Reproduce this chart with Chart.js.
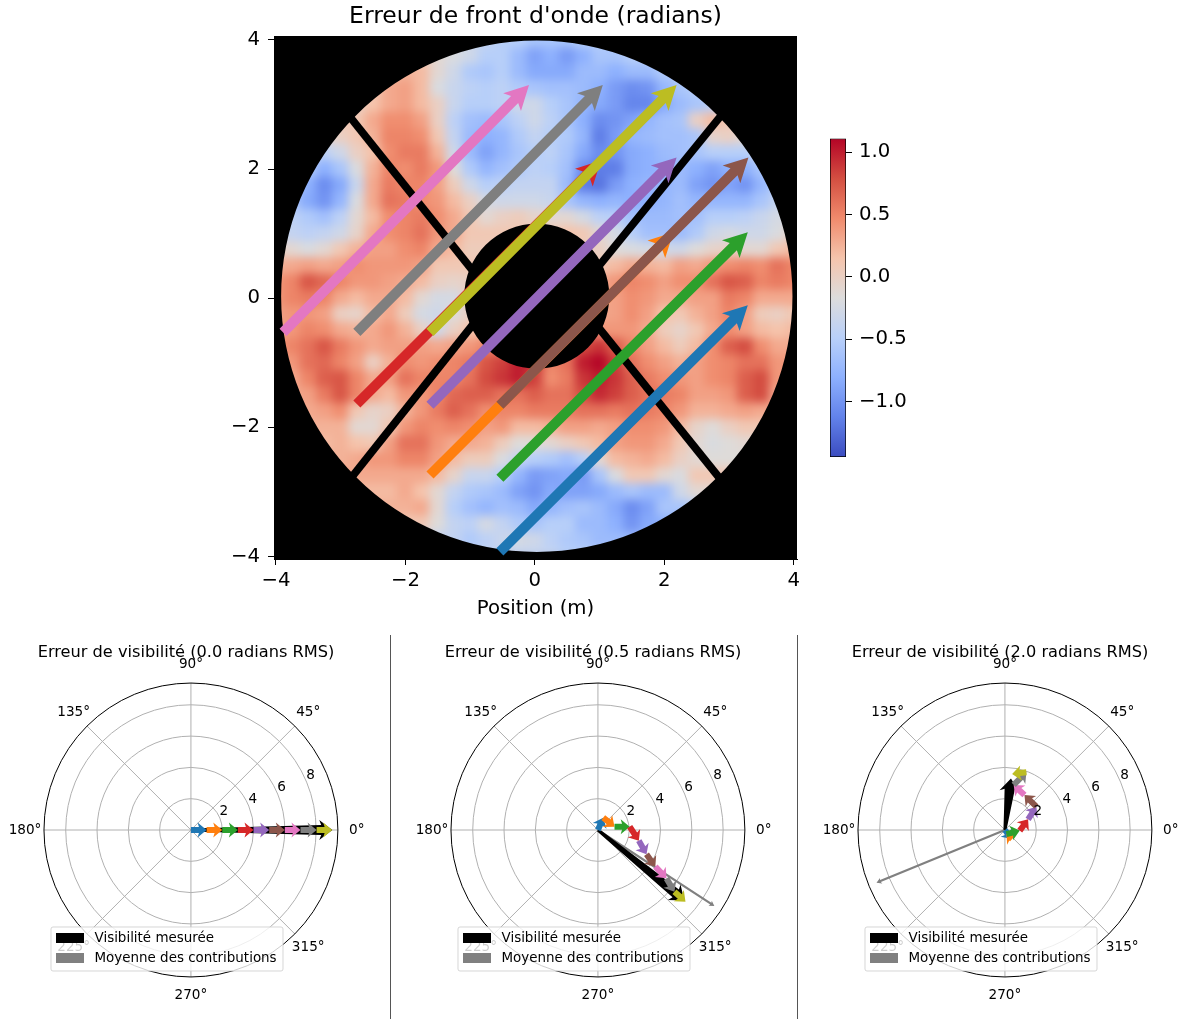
<!DOCTYPE html>
<html lang="fr">
<head>
  <meta charset="UTF-8" />
  <title>Erreur de front d'onde</title>
  <script src="https://cdn.jsdelivr.net/npm/chart.js"></script>
  <style>
    html, body { margin: 0; padding: 0; background: #fff; overflow: hidden; width: 1182px; height: 1019px; }
    .box { position: absolute; }
    .sep { position: absolute; top: 635px; width: 1px; height: 384px; background: #555; }
  </style>
</head>
<body>
  <div class="box" style="left:220px;top:0;width:631px;height:621px"><canvas id="mainChart"></canvas></div>
  <div class="box" style="left:800px;top:120px;width:140px;height:350px"><canvas id="barChart"></canvas></div>
  <div class="box" style="left:0;top:635px;width:372px;height:384px"><canvas id="polar0"></canvas></div>
  <div class="box" style="left:407px;top:635px;width:372px;height:384px"><canvas id="polar1"></canvas></div>
  <div class="box" style="left:814px;top:635px;width:372px;height:384px"><canvas id="polar2"></canvas></div>
  <div class="sep" style="left:390px"></div>
  <div class="sep" style="left:797px"></div>

  <script>
    // ------------------------------
    // DATA
    // ------------------------------
    const n = null; // outside the pupil
    const heatX = [-4,-3.75,-3.5,-3.25,-3,-2.75,-2.5,-2.25,-2,-1.75,-1.5,-1.25,-1,-.75,-.5,-.25,0,.25,.5,.75,1,1.25,1.5,1.75,2,2.25,2.5,2.75,3,3.25,3.5,3.75,4];
    const heatY = [4,3.75,3.5,3.25,3,2.75,2.5,2.25,2,1.75,1.5,1.25,1,.75,.5,.25,0,-.25,-.5,-.75,-1,-1.25,-1.5,-1.75,-2,-2.25,-2.5,-2.75,-3,-3.25,-3.5,-3.75,-4];
    const heatRows = [
      [n,n,n,n,n,n,n,n,n,-.1,-.2,-.3,-.3,-.4,-.5,-.5,-.6,-.6,-.6,-.5,-.5,-.5,-.4,-.4,-.4,n,n,n,n,n,n,n,n],
      [n,n,n,n,n,n,n,n,.1,.1,-.1,-.2,-.3,-.5,-.5,-.7,-.9,-.8,-.95,-.8,-.6,-.6,-.5,-.45,-.45,n,n,n,n,n,n,n,n],
      [n,n,n,n,n,n,.2,.2,.25,.2,-.1,-.3,-.55,-.6,-.5,-.7,-.85,-.85,-.85,-.7,-.7,-.8,-.7,-.7,-.55,-.5,-.5,n,n,n,n,n,n],
      [n,n,n,n,.1,.1,.1,.3,.35,.2,-.2,-.35,-.45,-.5,-.45,-.55,-.6,-.65,-.65,-.7,-.8,-.95,-1.05,-1,-.75,-.6,-.5,-.5,-.5,n,n,n,n],
      [n,n,n,0,0,0,.15,.3,.35,.2,0,-.35,-.5,-.5,-.45,-.3,-.3,-.5,-.6,-.75,-.85,-.95,-1.1,-1.1,-.85,-.7,-.6,-.5,-.4,-.4,n,n,n],
      [n,n,n,.1,.1,.1,.3,.45,.45,.35,0,-.45,-.65,-.7,-.6,-.45,-.3,-.45,-.6,-.8,-1.05,-1,-.9,-.75,-.65,-.6,0,.2,.1,.1,n,n,n],
      [n,n,-.1,-.1,0,.1,.25,.5,.5,.45,.1,-.4,-.7,-.8,-.75,-.55,-.4,-.5,-.55,-.75,-1.15,-.95,-.75,-.7,-.65,-.65,-.6,-.05,0,-.1,-.1,n,n],
      [n,-.3,-.3,-.45,-.3,0,.15,.45,.55,.55,.25,-.3,-.7,-.9,-.75,-.6,-.5,-.45,-.6,-.85,-1.05,-1,-.85,-.8,-.7,-.65,-.6,-.5,-.5,-.5,-.3,-.3,n],
      [-.4,-.4,-.55,-.8,-.6,-.2,.25,.5,.45,.55,.4,-.15,-.55,-.75,-.65,-.55,-.45,-.5,-.65,-1.05,-1.15,-1.15,-.85,-.8,-.75,-.7,-.8,-.9,-.8,-.8,-.6,-.5,-.5],
      [-.5,-.5,-.8,-1.05,-.85,-.35,.3,.55,.5,.5,.35,.05,-.3,-.5,-.45,-.4,-.4,-.4,-.7,-1.15,-1.2,-.95,-.8,-.75,-.75,-.7,-.9,-1,-.9,-1,-.75,-.5,-.5],
      [-.3,-.6,-.85,-1,-.75,-.2,.3,.6,.55,.45,.4,.2,0,-.25,-.3,-.3,-.3,-.35,-.6,-.75,-.8,-.75,-.8,-.8,-.75,-.65,-.75,-.75,-.75,-.75,-.6,-.4,-.3],
      [-.3,-.45,-.55,-.65,-.45,-.1,.2,.45,.5,.55,.45,.3,.1,-.1,0,.05,-.05,-.1,-.1,-.25,-.45,-.5,-.65,-.7,-.7,-.65,-.65,-.5,-.5,-.45,-.35,-.25,-.2],
      [-.3,-.4,-.45,-.4,-.3,-.05,.3,.45,.5,.6,.4,.3,.1,.1,.1,.1,.1,.1,.15,.1,-.1,-.25,-.5,-.65,-.65,-.7,-.55,-.3,-.25,-.3,-.3,-.2,0],
      [0,-.1,-.2,-.1,.1,.25,.35,.35,.45,.5,.3,.2,.05,.05,.05,.05,.05,.05,.05,.05,0,-.15,-.2,-.25,-.3,-.3,-.15,-.05,0,-.1,-.1,.1,.2],
      [.25,.3,.35,.3,.35,.45,.4,.4,.4,.35,.1,.1,.1,.1,.1,.1,.1,.1,.1,.1,.1,.2,.3,.25,.2,.35,.3,.4,.45,.5,.45,.6,.5],
      [.4,.5,.75,.65,.5,.4,.4,.35,.3,.2,0,-.05,0,0,0,0,0,0,.2,.3,.3,.4,.5,.45,.35,.45,.45,.6,.75,.7,.5,.55,.5],
      [.4,.5,.55,.5,.3,.2,.3,.3,.2,-.1,-.25,-.25,0,0,0,0,0,0,.2,.3,.3,.35,.45,.4,.3,.3,.35,.35,.55,.5,.3,.3,.3],
      [.35,.4,.4,.35,0,-.05,.2,.3,.05,-.25,-.3,-.15,0,0,0,0,0,0,.2,.3,.3,.35,.45,.35,.15,.1,.25,.35,.5,.35,.05,0,.1],
      [.3,.4,.5,.45,.3,.25,.3,.4,.25,0,-.3,0,.15,.2,.2,.2,.2,.2,.3,.4,.4,.4,.4,.3,.05,-.05,.1,.3,.45,.35,.2,.15,.2],
      [.4,.5,.6,.75,.55,.4,.3,.35,.35,.35,.3,.35,.4,.5,.45,.5,.5,.5,.6,.8,.9,.7,.5,.35,.2,.05,.2,.45,.7,.8,.45,.3,.3],
      [.3,.4,.6,.65,.5,.35,0,.25,.45,.4,.45,.5,.55,.75,.85,1,.9,.5,.6,1,1.1,.85,.6,.45,.35,.25,.35,.45,.5,.6,.6,.4,.4],
      [.3,.3,.5,.7,.75,.5,.3,.35,.6,.5,.5,.5,.6,.8,.9,1,.85,.45,.55,.9,1,.9,.7,.55,.45,.4,.35,.45,.5,.7,.8,.4,.4],
      [.3,.3,.35,.55,.75,.5,.3,.2,.4,.4,.5,.65,.7,.7,.6,.6,.7,.6,.6,.8,.95,.85,.7,.6,.55,.5,.35,.35,.4,.7,.8,.3,.3],
      [.3,.3,.3,.35,.45,.1,-.05,0,.25,.4,.55,.7,.6,.45,.5,.5,.55,.55,.55,.6,.6,.55,.6,.55,.5,.4,.25,.25,.3,.35,.3,.3,.3],
      [n,.25,.25,.25,.25,-.1,-.1,.1,.4,.5,.45,.5,.45,.35,.4,.2,.2,.25,.35,.35,.3,.35,.45,.45,.4,.2,-.05,-.15,0,.1,.1,.1,n],
      [n,.2,.2,.2,.25,.15,.1,.35,.6,.6,.4,.3,.3,.25,.05,-.15,-.15,-.1,0,.1,.2,.35,.4,.4,.3,.1,-.1,-.2,-.15,-.1,-.1,-.1,n],
      [n,n,.25,.25,.25,.3,.4,.4,.5,.5,.35,.2,.05,.05,-.2,-.4,-.5,-.55,-.65,-.5,-.1,.2,.25,.3,.2,0,-.1,-.15,-.15,-.15,-.15,n,n],
      [n,n,n,.3,.3,.3,.3,.3,.3,.3,.2,-.05,-.35,-.35,-.5,-.75,-.95,-.9,-.85,-.95,-.6,-.2,.1,.1,-.1,-.2,.1,.1,.1,.1,n,n,n],
      [n,n,n,n,.2,.2,.2,.2,.3,.15,-.1,-.4,-.55,-.6,-.7,-.9,-1,-.85,-.9,-.9,-.85,-.7,-.6,-.7,-.7,-.3,-.1,-.1,-.1,n,n,n,n],
      [n,n,n,n,n,.25,.25,.25,.25,.3,-.1,-.5,-.65,-.75,-.65,-.7,-.85,-.75,-.65,-.6,-.7,-.85,-1.05,-.9,-.6,-.6,-.5,-.5,n,n,n,n,n],
      [n,n,n,n,n,n,n,.1,.1,.1,-.15,-.4,-.45,-.25,-.4,-.55,-.6,-.5,-.5,-.7,-.7,-.8,-1,-.85,-.8,-.8,n,n,n,n,n,n,n],
      [n,n,n,n,n,n,n,n,n,-.4,-.4,-.4,-.55,-.45,-.35,-.25,-.3,-.45,-.55,-.6,-.7,-.7,-.7,-.7,n,n,n,n,n,n,n,n,n],
      [n,n,n,n,n,n,n,n,n,n,n,-.4,-.4,-.4,-.4,-.4,-.4,-.4,-.5,-.5,-.5,-.5,-.5,n,n,n,n,n,n,n,n,n,n]
    ];

    const tab10 = ['#1f77b4','#ff7f0e','#2ca02c','#d62728','#9467bd','#8c564b','#e377c2','#7f7f7f','#bcbd22'];

    // start and tip of each sub-pupil arrow (metres)
    const startX = [-.54,-1.62,-.54,-2.75,-1.62,-.54,-3.89,-2.75,-1.62];
    const startY = [-3.93,-2.74,-2.79,-1.64,-1.66,-1.66,-.53,-.53,-.53];
    const tipX = [3.29,2.14,3.29,1.02,2.19,3.3,-.09,1.05,2.19];
    const tipY = [-.11,1.02,1.02,2.13,2.18,2.18,3.3,3.3,3.3];

    const axisTicks = [-4,-2,0,2,4];
    const barTicks = [-1,-.5,0,.5,1];

    // phasor chain tips in the polar panels: radius, angle in degrees
    const rmsLabels = ['0.0','0.5','2.0'];
    const chainR = [
      [1,2,3,4,5,6,7,8.03,9.03],
      [.86,1.08,2.04,2.7,3.47,4.35,5.36,6.28,7.23],
      [.74,.28,.95,1.63,2.5,2.56,2.93,3.93,3.61]
    ];
    const chainT = [
      [0,0,0,0,0,0,0,0,0],
      [66.7,11.2,5.9,-14.6,-26.6,-32.5,-35.2,-38.9,-39.3],
      [-51.6,-69,-2.4,24.7,36.5,60.8,79,69.6,82.7]
    ];
    const measuredR = [9.03,7.12,3.32];
    const measuredT = [0,-39.2,83.3];
    const meanR = [9.03,8.88,8.87];
    const meanT = [0,-33.1,202.3];

    const rTicks = [2,4,6,8];
    const angleTicks = [0,45,90,135,180,225,270,315];
    const legendLabels = ['Visibilité mesurée','Moyenne des contributions'];

    // ------------------------------
    // HELPERS
    // ------------------------------
    const FONT = "'DejaVu Sans', sans-serif";
    const coolwarm = ['#3b4cc0','#6282ea','#8db0fe','#b9d0f9','#dddcdc','#f5c4ac','#f08a6c','#d44e41','#b40426'];
    const V_MIN = -1.445, V_MAX = 1.11;
    const R_MAX = 9.39;

    function rgb(hex) {
      return [1,3,5].map(i => parseInt(hex.substr(i,2),16));
    }
    function heatColor(v) {
      const t = Math.min(1, Math.max(0, (v - V_MIN) / (V_MAX - V_MIN))) * (coolwarm.length - 1);
      const i = Math.min(coolwarm.length - 2, Math.floor(t));
      const a = rgb(coolwarm[i]), b = rgb(coolwarm[i+1]);
      const c = a.map((p,k) => Math.round(p + (b[k]-p)*(t-i)));
      return `rgb(${c[0]},${c[1]},${c[2]})`;
    }
    function fixTicks(values) {
      return scale => { scale.ticks = values.map(v => ({ value: v })); };
    }
    function minusLabel(v) {
      return String(v).replace('-', '\u2212');
    }

    // draw an arrow polygon between the two points of a dataset
    function drawArrow(ctx, p0, p1, a, color) {
      const dx = p1.x - p0.x, dy = p1.y - p0.y;
      const len = Math.hypot(dx, dy);
      if (!len) return;
      const ux = dx/len, uy = dy/len, nx = -uy, ny = ux;
      const hl = Math.min(a.head, len), notch = hl * .85;
      const at = (d, w) => [p0.x + ux*d + nx*w, p0.y + uy*d + ny*w];
      const pts = [
        at(0, a.base/2), at(len-notch, a.neck/2), at(len-hl, a.wing/2), at(len, 0),
        at(len-hl, -a.wing/2), at(len-notch, -a.neck/2), at(0, -a.base/2)
      ];
      ctx.save();
      ctx.fillStyle = color;
      ctx.beginPath();
      pts.forEach((p,i) => i ? ctx.lineTo(p[0],p[1]) : ctx.moveTo(p[0],p[1]));
      ctx.closePath();
      ctx.fill();
      ctx.restore();
    }

    const arrowPlugin = {
      id: 'arrows',
      afterDatasetDraw(chart, args) {
        const ds = chart.data.datasets[args.index];
        if (!ds.arrow) return;
        const pts = args.meta.data;
        drawArrow(chart.ctx, pts[0], pts[1], ds.arrow, ds.borderColor);
      }
    };

    // ------------------------------
    // WAVEFRONT MAP
    // ------------------------------
    const PUPIL_CX = .03, PUPIL_CY = .03, PUPIL_R = 3.95, HOLE_R = 1.12;
    const SPIDER_W = .12;
    const spiders = [[-2.85,2.8,-.9,.35],[2.88,2.83,.95,.45],[-2.85,-2.8,-.95,-.4],[2.88,-2.82,.9,-.35]];

    const heatPoints = [], heatColors = [];
    heatRows.forEach((row, j) => row.forEach((v, i) => {
      if (v === null) return;
      heatPoints.push({ x: heatX[i], y: heatY[j] });
      heatColors.push(heatColor(v));
    }));

    const pupilPlugin = {
      id: 'pupil',
      beforeDatasetsDraw(chart) {
        const { ctx, chartArea: c } = chart;
        ctx.save();
        ctx.fillStyle = '#000';
        ctx.fillRect(c.left, c.top, c.width, c.height);
        ctx.restore();
      },
      afterDatasetDraw(chart, args) {
        if (!chart.data.datasets[args.index].heat) return;
        const { ctx, chartArea: c, scales: { x, y } } = chart;
        const cx = x.getPixelForValue(PUPIL_CX), cy = y.getPixelForValue(PUPIL_CY);
        const unit = x.getPixelForValue(1) - x.getPixelForValue(0);
        ctx.save();
        ctx.beginPath();
        ctx.rect(c.left, c.top, c.width, c.height);
        ctx.clip();
        // smooth the cells like the original map
        ctx.filter = 'blur(5px)';
        ctx.drawImage(chart.canvas, 0, 0);
        ctx.filter = 'none';
        ctx.fillStyle = '#000';
        ctx.beginPath();
        ctx.rect(c.left, c.top, c.width, c.height);
        ctx.arc(cx, cy, PUPIL_R*unit, 0, Math.PI*2);
        ctx.closePath();
        ctx.moveTo(cx + HOLE_R*unit, cy);
        ctx.arc(cx, cy, HOLE_R*unit, 0, Math.PI*2);
        ctx.fill('evenodd');
        ctx.strokeStyle = '#000';
        ctx.lineWidth = SPIDER_W*unit;
        spiders.forEach(s => {
          ctx.beginPath();
          ctx.moveTo(x.getPixelForValue(s[0]), y.getPixelForValue(s[1]));
          ctx.lineTo(x.getPixelForValue(s[2]), y.getPixelForValue(s[3]));
          ctx.stroke();
        });
        ctx.restore();
      }
    };

    const mainDatasets = [];
    tab10.forEach((color, i) => {
      mainDatasets.push({
        data: [{ x: startX[i], y: startY[i] }, { x: tipX[i], y: tipY[i] }],
        borderColor: color,
        showLine: false,
        pointRadius: 0,
        order: 8 - i,
        arrow: { base: 10, neck: 10, wing: 25, head: 24 }
      });
    });
    mainDatasets.push({
      data: heatPoints,
      heat: true,
      pointStyle: 'rect',
      pointRadius: 12,
      pointBorderWidth: 0,
      pointBackgroundColor: heatColors,
      order: 100
    });

    new Chart(document.getElementById('mainChart'), {
      type: 'scatter',
      data: { datasets: mainDatasets },
      plugins: [pupilPlugin, arrowPlugin],
      options: {
        responsive: true,
        maintainAspectRatio: false,
        animation: false,
        events: [],
        plugins: {
          legend: { display: false },
          tooltip: { enabled: false },
          title: {
            display: true,
            text: "Erreur de front d'onde (radians)",
            color: '#000',
            font: { family: FONT, size: 23.5, weight: 'normal', lineHeight: 1.2 },
            padding: { top: 3, bottom: 4.8 }
          }
        },
        scales: {
          x: {
            type: 'linear',
            min: -4.03,
            max: 4.05,
            afterBuildTicks: fixTicks(axisTicks),
            afterFit: s => { s.height = 62; },
            grid: { display: true, drawOnChartArea: false, color: '#000', tickLength: 6 },
            border: { color: '#000' },
            ticks: { color: '#000', font: { family: FONT, size: 19.7 }, padding: 4, maxRotation: 0, callback: minusLabel },
            title: { display: true, text: 'Position (m)', color: '#000', font: { family: FONT, size: 19.7 }, padding: 0 }
          },
          y: {
            type: 'linear',
            min: -4.04,
            max: 4.06,
            afterBuildTicks: fixTicks(axisTicks),
            afterFit: s => { s.width = 54; },
            grid: { display: true, drawOnChartArea: false, color: '#000', tickLength: 6 },
            border: { color: '#000' },
            ticks: { color: '#000', font: { family: FONT, size: 19.7 }, padding: 8, callback: minusLabel }
          },
          // empty right axis, keeps the title centred over the map
          y2: {
            type: 'linear',
            position: 'right',
            afterFit: s => { s.width = 54; },
            grid: { display: false },
            border: { display: false },
            ticks: { display: false }
          }
        }
      }
    });

    // ------------------------------
    // COLORBAR
    // ------------------------------
    new Chart(document.getElementById('barChart'), {
      type: 'bar',
      data: {
        labels: [''],
        datasets: [{
          data: [[V_MIN, V_MAX]],
          barPercentage: 1,
          categoryPercentage: 1,
          borderColor: '#000',
          borderWidth: 1,
          borderSkipped: false,
          backgroundColor: ctx => {
            const y = ctx.chart.scales.y;
            const y0 = y ? y.getPixelForValue(V_MIN) : NaN, y1 = y ? y.getPixelForValue(V_MAX) : NaN;
            if (!Number.isFinite(y0) || !Number.isFinite(y1)) return '#888';
            const g = ctx.chart.ctx.createLinearGradient(0, y0, 0, y1);
            coolwarm.forEach((c, i) => g.addColorStop(i / (coolwarm.length - 1), c));
            return g;
          }
        }]
      },
      options: {
        responsive: true,
        maintainAspectRatio: false,
        animation: false,
        events: [],
        layout: { padding: { left: 30, right: 0, top: 18.5, bottom: 13 } },
        plugins: { legend: { display: false }, tooltip: { enabled: false } },
        scales: {
          x: { display: false },
          y: {
            position: 'right',
            min: V_MIN,
            max: V_MAX,
            afterBuildTicks: fixTicks(barTicks),
            afterFit: s => { s.width = 94; s.paddingTop = 0; s.paddingBottom = 0; },
            grid: { drawOnChartArea: false, color: '#000', tickLength: 6 },
            border: { display: false },
            ticks: {
              color: '#000',
              font: { family: FONT, size: 19.7 },
              padding: 7,
              callback: v => minusLabel(Number(v).toFixed(1))
            }
          }
        }
      }
    });

    // ------------------------------
    // POLAR PANELS
    // ------------------------------
    const polarPlugin = {
      id: 'polarFrame',
      beforeDatasetsDraw(chart) {
        const { ctx, scales: { x, y } } = chart;
        const cx = x.getPixelForValue(0), cy = y.getPixelForValue(0);
        const unit = x.getPixelForValue(1) - cx;
        ctx.save();
        ctx.strokeStyle = '#b0b0b0';
        ctx.lineWidth = 1;
        rTicks.forEach(r => {
          ctx.beginPath();
          ctx.arc(cx, cy, r*unit, 0, Math.PI*2);
          ctx.stroke();
        });
        angleTicks.forEach(a => {
          const t = a*Math.PI/180;
          ctx.beginPath();
          ctx.moveTo(cx, cy);
          ctx.lineTo(x.getPixelForValue(R_MAX*Math.cos(t)), y.getPixelForValue(R_MAX*Math.sin(t)));
          ctx.stroke();
        });
        ctx.fillStyle = '#000';
        ctx.font = `13.6px ${FONT}`;
        ctx.textAlign = 'center';
        ctx.textBaseline = 'middle';
        angleTicks.forEach(a => {
          const t = a*Math.PI/180;
          ctx.fillText(a + '°', x.getPixelForValue(10.6*Math.cos(t)), y.getPixelForValue(10.6*Math.sin(t)));
        });
        ctx.strokeStyle = '#000';
        ctx.beginPath();
        ctx.arc(cx, cy, R_MAX*unit, 0, Math.PI*2);
        ctx.stroke();
        ctx.restore();
      },
      afterDatasetsDraw(chart) {
        const { ctx, scales: { x, y } } = chart;
        const t = 22.5*Math.PI/180;
        ctx.save();
        ctx.fillStyle = '#000';
        ctx.font = `13.6px ${FONT}`;
        ctx.textAlign = 'center';
        ctx.textBaseline = 'middle';
        rTicks.forEach(r => {
          ctx.fillText(r, x.getPixelForValue(r*Math.cos(t)) + 4, y.getPixelForValue(r*Math.sin(t)) - 7);
        });
        // legend box
        ctx.globalAlpha = .8;
        ctx.fillStyle = '#fff';
        ctx.strokeStyle = '#ccc';
        ctx.beginPath();
        ctx.roundRect(51, 292, 232, 44, 2);
        ctx.fill();
        ctx.stroke();
        ctx.globalAlpha = 1;
        ctx.font = `13.45px ${FONT}`;
        ['#000', '#808080'].forEach((c, i) => {
          ctx.fillStyle = c;
          ctx.fillRect(56, 298 + i*20, 28, 10);
          ctx.fillStyle = '#000';
          ctx.textAlign = 'left';
          ctx.fillText(legendLabels[i], 94.5, 304 + i*20);
        });
        ctx.restore();
      }
    };

    function toXY(r, deg) {
      const t = deg*Math.PI/180;
      return { x: r*Math.cos(t), y: r*Math.sin(t) };
    }

    rmsLabels.forEach((rms, k) => {
      const datasets = [];
      let prev = { x: 0, y: 0 };
      chainR[k].forEach((r, i) => {
        const tip = toXY(r, chainT[k][i]);
        datasets.push({
          data: [prev, tip],
          borderColor: tab10[i],
          showLine: false,
          pointRadius: 0,
          order: 8 - i,
          arrow: { base: 6, neck: 6, wing: 15, head: 9 }
        });
        prev = tip;
      });
      datasets.push({
        data: [{ x: 0, y: 0 }, toXY(measuredR[k], measuredT[k])],
        borderColor: '#000',
        showLine: false,
        pointRadius: 0,
        order: 20,
        arrow: { base: 3, neck: 10, wing: 20, head: 13 }
      });
      datasets.push({
        data: [{ x: 0, y: 0 }, toXY(meanR[k], meanT[k])],
        borderColor: '#808080',
        showLine: false,
        pointRadius: 0,
        order: 21,
        arrow: { base: 2.2, neck: 2.2, wing: 6, head: 5 }
      });

      new Chart(document.getElementById('polar' + k), {
        type: 'scatter',
        data: { datasets },
        plugins: [polarPlugin, arrowPlugin],
        options: {
          responsive: true,
          maintainAspectRatio: false,
          animation: false,
          events: [],
          layout: { padding: { left: 0, right: 0, top: 0, bottom: 42 } },
          plugins: {
            legend: { display: false },
            tooltip: { enabled: false },
            title: {
              display: true,
              text: `Erreur de visibilité (${rms} radians RMS)`,
              color: '#000',
              font: { family: FONT, size: 16.2, weight: 'normal', lineHeight: 1.2 },
              padding: { top: 8, bottom: 20.56 }
            }
          },
          scales: {
            x: { type: 'linear', display: false, min: -12.2, max: 11.57 },
            y: { type: 'linear', display: false, min: -R_MAX, max: R_MAX }
          }
        }
      });
    });
  </script>
</body>
</html>
